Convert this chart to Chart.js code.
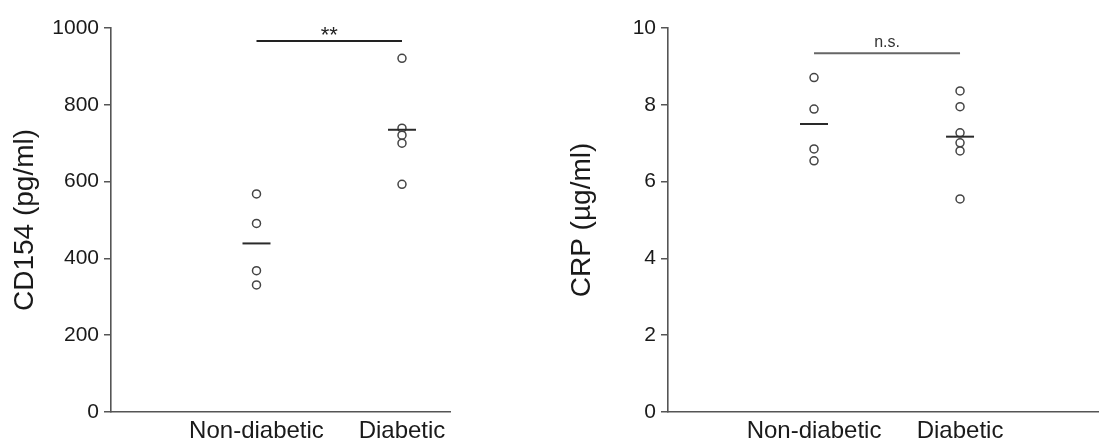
<!DOCTYPE html>
<html><head><meta charset="utf-8">
<script src="https://cdn.jsdelivr.net/npm/chart.js@4.4.1/dist/chart.umd.min.js"></script>
<style>
html,body{margin:0;padding:0;background:#fff;overflow:hidden;width:1099px;height:441px;position:relative}
.wrap{position:absolute;top:0;height:441px}
#w1{left:0;width:557px}
#w2{left:557px;width:600px}
canvas{display:block}
</style></head><body>
<div class="wrap" id="w1"><canvas id="c1" width="557" height="441"></canvas></div>
<div class="wrap" id="w2"><canvas id="c2" width="600" height="441"></canvas></div>
<script>
const categories = ['Non-diabetic', 'Diabetic'];
const cd154NonDiabetic = [568, 491, 368, 331];
const cd154Diabetic = [921, 739, 721, 700, 593];
const cd154Means = [439, 735];
const cd154Ticks = [0, 200, 400, 600, 800, 1000];
const crpNonDiabetic = [8.71, 7.89, 6.85, 6.54];
const crpDiabetic = [8.36, 7.95, 7.27, 7.01, 6.80, 5.55];
const crpMeans = [7.50, 7.17];
const crpTicks = [0, 2, 4, 6, 8, 10];
const sigLabels = ['**', 'n.s.'];
const sigLevels = [966, 9.34];

const FONT = "'Liberation Sans', Arial, Helvetica, sans-serif";

const sigPlugin = {
  id: 'sig',
  afterDatasetsDraw(chart, args, opts) {
    const xs = chart.scales.x, ys = chart.scales.y, ctx = chart.ctx;
    const x = (xs.getPixelForValue(1) + xs.getPixelForValue(2)) / 2;
    const y = ys.getPixelForValue(opts.level) - opts.offset;
    ctx.save();
    ctx.font = opts.font;
    ctx.fillStyle = opts.color;
    ctx.textAlign = 'center';
    ctx.textBaseline = 'alphabetic';
    ctx.fillText(opts.text, x, y);
    ctx.restore();
  }
};

function makeChart(id, title, nd, d, means, ticks, yMax, xMax, rightPad, sigText, sigLevel, sig) {
  const pts = nd.map(v => ({x: 1, y: v})).concat(d.map(v => ({x: 2, y: v})));
  const meanPts = means.map((v, i) => ({x: i + 1, y: v}));
  return new Chart(document.getElementById(id), {
    type: 'scatter',
    data: {
      datasets: [
        {
          data: [{x: 1, y: sigLevel}, {x: 2, y: sigLevel}],
          showLine: true, pointRadius: 0, borderWidth: 2,
          borderColor: sig.lineColor, order: 3
        },
        {
          data: pts, pointStyle: 'circle', pointRadius: 4, borderWidth: 1.5,
          borderColor: '#444', backgroundColor: '#fff', order: 2
        },
        {
          data: meanPts, pointStyle: 'line', pointRadius: 14, borderWidth: 2,
          borderColor: '#2a2a2a', order: 1
        }
      ]
    },
    options: {
      responsive: false,
      animation: false,
      events: [],
      layout: {padding: {top: 28, right: rightPad, left: 0, bottom: 0}},
      plugins: {
        legend: {display: false},
        tooltip: {enabled: false},
        sig: {text: sigText, level: sigLevel, font: sig.font, color: sig.color, offset: sig.offset}
      },
      scales: {
        x: {
          type: 'linear', min: 0, max: xMax,
          afterBuildTicks: s => { s.ticks = [{value: 1}, {value: 2}]; },
          afterFit: s => { s.height = 29; },
          grid: {display: false, drawTicks: false},
          border: {display: true, color: '#555', width: 1.6},
          ticks: {
            padding: 5, color: '#1a1a1a', maxRotation: 0,
            font: {family: FONT, size: 24},
            callback: v => categories[v - 1]
          }
        },
        y: {
          min: 0, max: yMax,
          afterBuildTicks: s => { s.ticks = ticks.map(v => ({value: v})); },
          afterFit: s => { s.width = 111; },
          grid: {display: true, drawOnChartArea: false, drawTicks: true, tickLength: 7, color: '#555', lineWidth: 1.5},
          border: {display: true, color: '#555', width: 1.6},
          ticks: {padding: 5, color: '#1a1a1a', font: {family: FONT, size: 21}, callback: v => String(v)},
          title: {display: true, text: title, color: '#1a1a1a', font: {family: FONT, size: 28}, padding: {top: 8, bottom: 0}}
        }
      }
    },
    plugins: [sigPlugin]
  });
}

makeChart('c1', 'CD154 (pg/ml)', cd154NonDiabetic, cd154Diabetic, cd154Means, cd154Ticks,
  1000, 2.33, 107, sigLabels[0], sigLevels[0],
  {lineColor: '#222', font: "22px " + FONT, color: '#222', offset: -1});
makeChart('c2', 'CRP (\u00b5g/ml)', crpNonDiabetic, crpDiabetic, crpMeans, crpTicks,
  10, 3.075, 40, sigLabels[1], sigLevels[1],
  {lineColor: '#666', font: "16px " + FONT, color: '#333', offset: 6});
</script>
</body></html>
